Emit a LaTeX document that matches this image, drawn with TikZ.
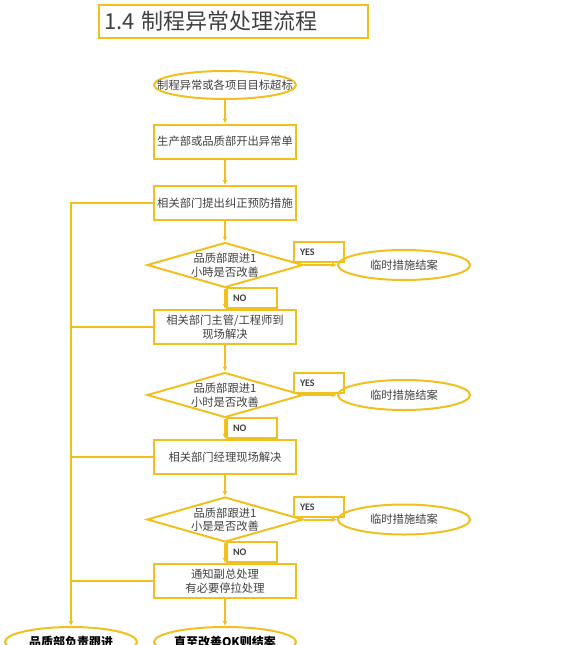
\documentclass[tikz,border=0pt]{standalone}
\usepackage{fontspec}
\setmainfont{Carlito}
\newfontfamily\cjk{Noto Sans CJK SC}
\usetikzlibrary{shapes.geometric,arrows.meta}
\definecolor{gold}{RGB}{240,192,32}
\definecolor{ink}{RGB}{64,64,64}
\begin{document}
\begin{tikzpicture}[x=1pt,y=-1pt,
  line/.style={draw=gold,line width=2pt},
  arr/.style={line,-{Latex[length=5pt,width=5pt]}},
  txt/.style={font=\cjk\fontsize{11.3}{13.5}\selectfont,text=ink},
  box/.style={line,txt,rectangle,minimum width=142pt,minimum height=34pt,align=center},
  oval/.style={line,txt,ellipse,minimum width=132pt,minimum height=30pt,inner xsep=-6pt,inner ysep=0pt},
  check/.style={line,txt,diamond,aspect=3.4,inner sep=0pt,minimum width=156pt,minimum height=45pt,align=center},
  tag/.style={line,rectangle,minimum height=20pt,text width=38pt,inner xsep=6pt,inner ysep=0pt,align=left,font=\fontsize{10}{11}\selectfont\bfseries,text=ink}]
\useasboundingbox (0,0) rectangle (581,645);

\node[draw=gold,line width=1.6pt,minimum height=33pt,text width=259pt,inner xsep=5pt,align=left,
  font=\cjk\fontsize{22}{25}\selectfont,text=ink] (title) at (233.5,21.5) {1.4 制程异常处理流程};

\node[oval,minimum width=142pt,minimum height=28pt,inner xsep=-20pt] (start) at (225,85) {制程异常或各项目目标超标};
\node[box] (box1) at (225,141.5) {生产部或品质部开出异常单};
\node[box] (box2) at (225,203) {相关部门提出纠正预防措施};
\node[check] (q1) at (225,265) {品质部跟进1\\小時是否改善};
\node[box] (box3) at (225,327) {相关部门主管/工程师到\\现场解决};
\node[check] (q2) at (225,395) {品质部跟进1\\小时是否改善};
\node[box] (box4) at (225,457) {相关部门经理现场解决};
\node[check] (q3) at (225,519.5) {品质部跟进1\\小是是否改善};
\node[box] (box5) at (225,581) {通知副总处理\\有必要停拉处理};
\node[oval,minimum width=142pt,inner xsep=-20pt,text=black,font=\cjk\fontsize{12}{14}\selectfont\bfseries] (final) at (225,642) {直至改善OK则结案};
\node[oval,inner xsep=-20pt,text=black,font=\cjk\fontsize{12}{14}\selectfont\bfseries] (follow) at (71,642) {品质部负责跟进};

\node[oval] (end1) at (404,265) {临时措施结案};
\node[oval] (end2) at (404,395) {临时措施结案};
\node[oval] (end3) at (404,519.5) {临时措施结案};
\node[tag] (yes1) at (319,252) {YES};
\node[tag] (yes2) at (319,383) {YES};
\node[tag] (yes3) at (319,507) {YES};
\node[tag] (no1) at (252,298) {NO};
\node[tag] (no2) at (252,428) {NO};
\node[tag] (no3) at (252,552) {NO};

\foreach \a/\b in {start/box1,box1/box2,box2/q1,q1/box3,box3/q2,q2/box4,box4/q3,q3/box5,box5/final}
  \draw[arr] (\a) -- (\b);
\foreach \q/\e in {q1/end1,q2/end2,q3/end3}
  \draw[arr] (\q.east) -- (\e.west);

\coordinate (trunk) at (71,203);
\draw[arr] (box2.west) -| (follow.north);
\foreach \n in {box3,box4,box5}
  \draw[line] (\n.west) -- (\n.west -| trunk);
\end{tikzpicture}
\end{document}
